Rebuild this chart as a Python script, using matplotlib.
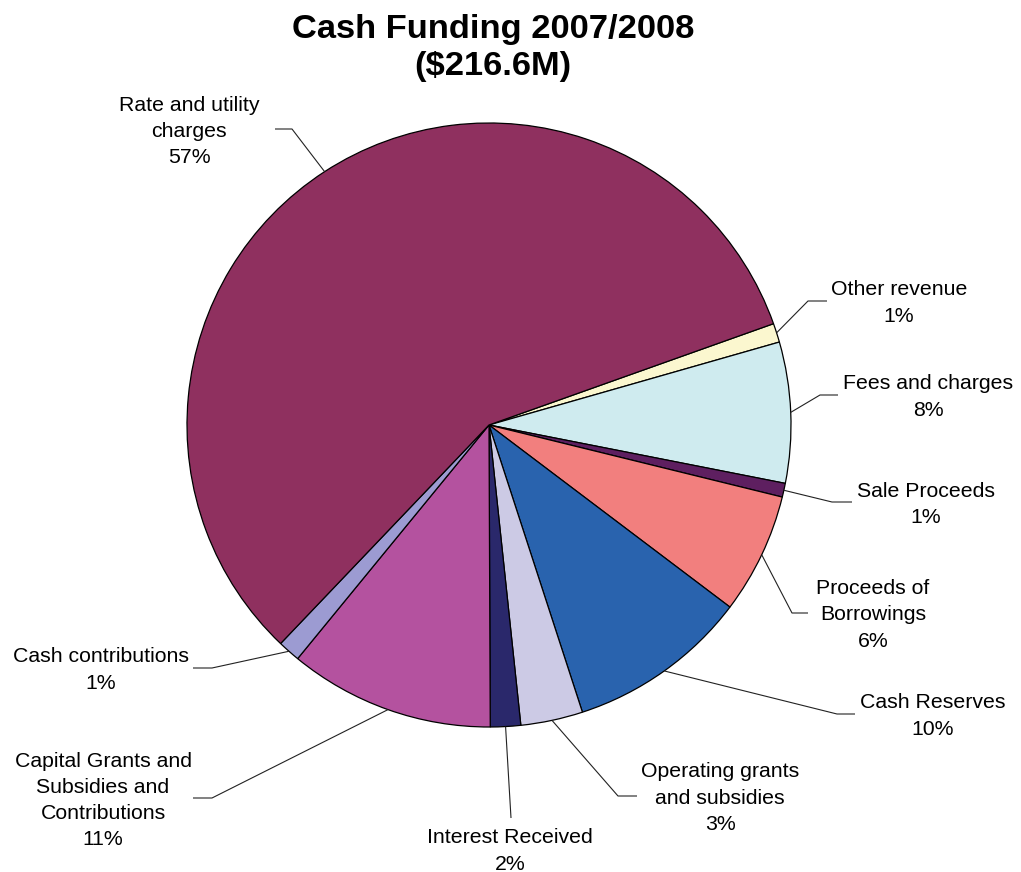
import matplotlib
matplotlib.use("Agg")
import matplotlib.pyplot as plt
import numpy as np

# Cash funding sources 2007/2008, $M (clockwise order from the top-right)
categories = [
    "Other revenue", "Fees and charges", "Sale Proceeds", "Proceeds of\nBorrowings",
    "Cash Reserves", "Operating grants\nand subsidies", "Interest Received",
    "Capital Grants and\nSubsidies and\nContributions", "Cash contributions",
    "Rate and utility\ncharges",
]
amounts = [2.2, 16.3, 1.6, 14.0, 21.0, 7.2, 3.5, 23.8, 2.6, 124.4]
colors = ["#FBF7CF", "#CFEBEF", "#5E1F60", "#F27F7E", "#2963AE",
          "#CCCAE5", "#2A286B", "#B4529F", "#9C9BD2", "#8F305F"]

W, H = 1021, 872
plt.rcParams["font.family"] = ["Liberation Sans", "DejaVu Sans"]

fig = plt.figure(figsize=(W / 100, H / 100), dpi=100)
ax = fig.add_axes([0, 0, 1, 1])

cx, cy, r = 489, H - 425, 302
total = sum(amounts)
wedges, _ = ax.pie(amounts, colors=colors, startangle=19.6, counterclock=False,
                   center=(cx, cy), radius=r, frame=True,
                   wedgeprops=dict(edgecolor="black", linewidth=0.9))
ax.set_xlim(0, W)
ax.set_ylim(0, H)
ax.axis("off")

# label block centre, leader elbow and leader end (pixel coords, y from top)
label_pos = [(899, 303), (928, 397), (926, 504.5), (873, 615), (933, 716),
             (720, 798), (510, 851), (103, 800.5), (101, 670), (189, 131.5)]
elbows = [(808, 301), (820, 395), (832, 502), (792, 613), (837, 714),
          (618, 796), (511, 818), (212, 798), (212, 668), (292, 129)]
ends = [(827, 301), (838, 395), (852, 502), (808, 613), (855, 714),
        (637, 796), (511, 818), (193, 798), (193, 668), (275, 129)]

for w, name, amt, lp, el, en in zip(wedges, categories, amounts, label_pos, elbows, ends):
    mid = np.deg2rad((w.theta1 + w.theta2) / 2)
    sx, sy = cx + r * np.cos(mid), cy + r * np.sin(mid)
    ax.plot([sx, el[0], en[0]], [sy, H - el[1], H - en[1]],
            color="#222222", lw=0.8, solid_capstyle="butt")
    pct = int(round(amt / total * 100))
    ax.text(lp[0], H - lp[1], f"{name}\n{pct}%", ha="center", va="center",
            fontsize=15.3, linespacing=1.47, color="black")

ax.text(493, H - 48, "Cash Funding 2007/2008\n($216.6M)", ha="center", va="center",
        fontsize=24.8, fontweight="bold", linespacing=1.25)

fig.savefig("out.png", dpi=100)
